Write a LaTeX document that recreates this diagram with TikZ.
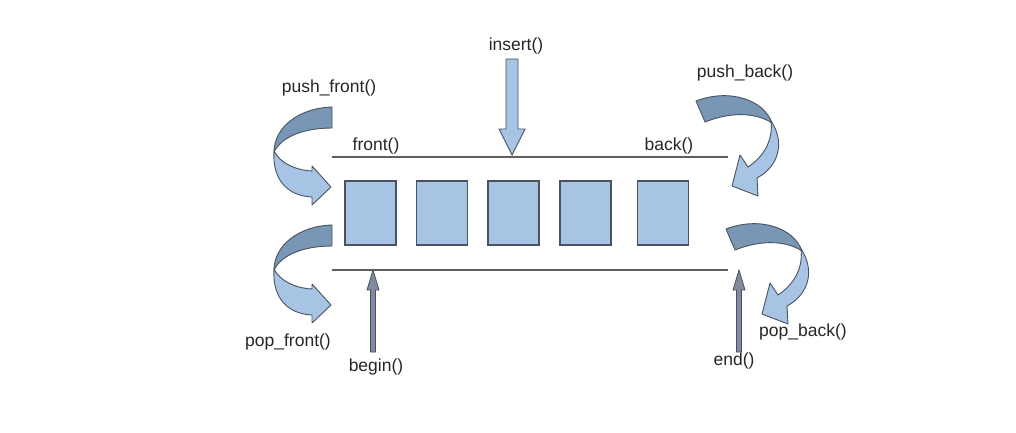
\documentclass[tikz,border=0pt]{standalone}
\usepackage{fontspec}
\setmainfont{Liberation Sans}
\usetikzlibrary{positioning, calc}

\definecolor{cellblue}{RGB}{167,196,228}
\definecolor{ribbondark}{RGB}{122,150,181}
\definecolor{edgegrey}{RGB}{72,82,96}
\definecolor{railgrey}{RGB}{95,95,95}
\definecolor{ptrgrey}{RGB}{128,140,158}

\begin{document}
\begin{tikzpicture}[
  x=1pt, y=-1pt,
  font=\fontsize{17.5}{20}\selectfont,
  %% Node styles
  cell/.style={
    draw=edgegrey, fill=cellblue, line width=1.4pt,
    minimum width=51pt, minimum height=64pt, inner sep=0pt
  },
  lbl/.style={inner sep=1pt, text=black!85},
  rail/.style={draw=railgrey, line width=1.2pt},
  %% Arrow styles
  blockarrow/.style={draw=edgegrey, fill=cellblue, line width=0.9pt, line join=miter},
  ptrarrow/.style={draw=edgegrey, fill=ptrgrey, line width=0.8pt, line join=miter},
  ribbon-dark/.style={draw=edgegrey, fill=ribbondark, line width=0.9pt, line join=round},
  ribbon-light/.style={draw=edgegrey, fill=cellblue, line width=0.9pt, line join=round},
]
\useasboundingbox (0,0) rectangle (1016,432);

%% ── CELLS ─────────────────────────────────────────────────────────────────
\node[cell] (b1) at (370.5,213) {};
\node[cell] (b2) at (442,213)   {};
\node[cell] (b3) at (513.5,213) {};
\node[cell] (b4) at (585.5,213) {};
\node[cell] (b5) at (663,213)   {};

%% ── RAILS ─────────────────────────────────────────────────────────────────
\coordinate (topL) at (332,157);
\coordinate (topR) at (728,157);
\coordinate (botL) at (332,270);
\coordinate (botR) at (728,270);
\draw[rail] (topL) -- (topR);
\draw[rail] (botL) -- (botR);

%% ── LABELS ────────────────────────────────────────────────────────────────
\node[lbl] (front)     at (376,146) {front()};
\node[lbl] (back)      at (669,146) {back()};
\node[lbl] (insert)    at (516,46)  {insert()};
\node[lbl] (pushfront) at (329,88)  {push\_front()};
\node[lbl] (pushback)  at (745,73)  {push\_back()};
\node[lbl] (popfront)  at (288,342) {pop\_front()};
\node[lbl] (popback)   at (803,332) {pop\_back()};
\node[lbl] (begin)     at (376,367) {begin()};
\node[lbl] (end)       at (734,361) {end()};

%% ── INSERT ────────────────────────────────────────────────────────────────
\coordinate (insTip) at (512,155);
\draw[blockarrow] (insTip) -- ++(-13,-26) -- ++(7,0) -- ++(0,-70)
  -- ++(12,0) -- ++(0,70) -- ++(7,0) -- cycle;

%% ── BEGIN / END ───────────────────────────────────────────────────────────
\coordinate (beginTip) at (373,270);
\coordinate (endTip)   at (739,270);
\foreach \tp in {beginTip, endTip}
  \draw[ptrarrow] (\tp) -- ++(-6,20) -- ++(3.5,0) -- ++(0,62)
    -- ++(5,0) -- ++(0,-62) -- ++(3.5,0) -- cycle;

%% ── FRONT RIBBONS (push / pop) ────────────────────────────────────────────
\foreach \dy in {0,118}{
  \begin{scope}[shift={(0,\dy)}]
    \draw[ribbon-light] (274,151) .. controls (280,163) and (295,170) .. (312,171)
      -- (312,166) -- (331,187) -- (312,205) -- (312,197)
      .. controls (288,196) and (272,180) .. (274,151) -- cycle;
    \draw[ribbon-dark] (332,107) .. controls (298,108) and (274,128) .. (274,152)
      .. controls (282,136) and (305,128) .. (332,128) -- cycle;
  \end{scope}
}

%% ── BACK RIBBONS (push / pop) ─────────────────────────────────────────────
\foreach \dx/\dy in {0/0,30/128}{
  \begin{scope}[shift={(\dx,\dy)}]
    \draw[ribbon-light] (771,121) .. controls (784,140) and (781,165) .. (757,178)
      -- (758,196) -- (732,186) -- (740,155) -- (748,167)
      .. controls (766,155) and (773,138) .. (771,121) -- cycle;
    \draw[ribbon-dark] (696,101) .. controls (730,88) and (764,100) .. (772,123)
      .. controls (755,112) and (730,112) .. (705,122) -- cycle;
  \end{scope}
}

\end{tikzpicture}
\end{document}
